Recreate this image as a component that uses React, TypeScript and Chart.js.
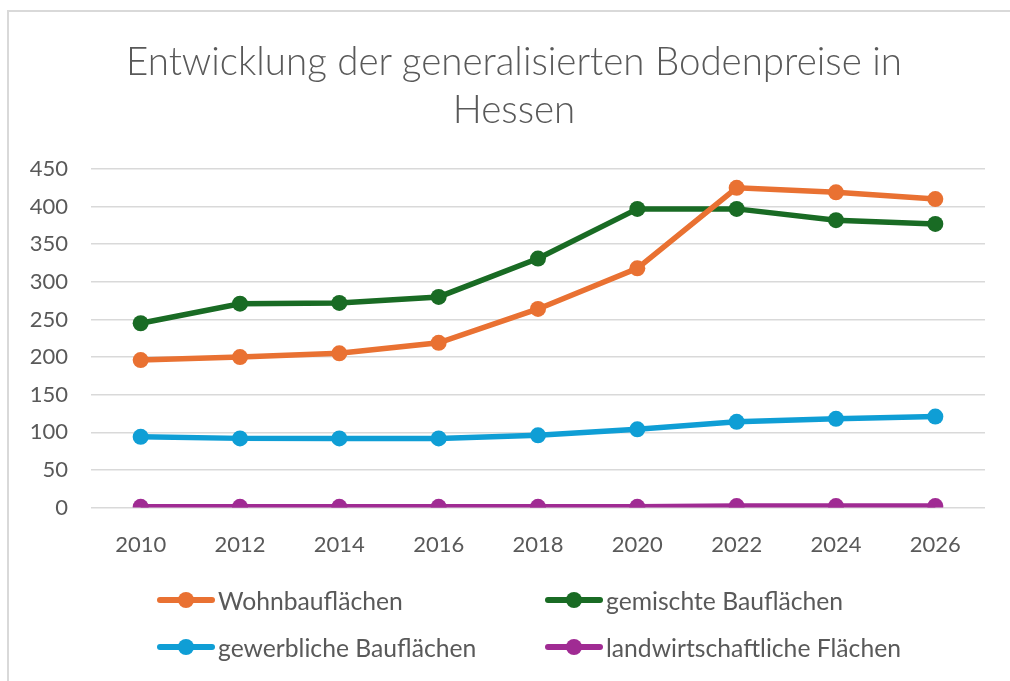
import React, { useEffect, useRef } from "react";
import { Chart, registerables } from "chart.js";

Chart.register(...registerables);

const years = ["2010", "2012", "2014", "2016", "2018", "2020", "2022", "2024", "2026"];
const wohnbau = [196, 200, 205, 219, 264, 318, 425, 419, 410];
const gemischt = [245, 271, 272, 280, 331, 397, 397, 382, 377];
const gewerblich = [94, 92, 92, 92, 96, 104, 114, 118, 121];
const landwirtschaft = [1, 1, 1, 1, 1, 1, 2, 2, 2];
const seriesNames = ["Wohnbauflächen", "gemischte Bauflächen", "gewerbliche Bauflächen", "landwirtschaftliche Flächen"];
const seriesColors = ["#E97132", "#196B24", "#0F9ED5", "#A02B93"];
const titleLines = ["Entwicklung der generalisierten Bodenpreise in", "Hessen"];
const yMin = 0;
const yMax = 450;
const yStep = 50;

const FONT = "Lato, 'Open Sans', sans-serif";
const TEXT = "#595959";

const legendPos = [
  { x: 157, y: 600 },
  { x: 545, y: 600 },
  { x: 157, y: 647 },
  { x: 545, y: 647 },
];

export default function App() {
  const ref = useRef<HTMLCanvasElement | null>(null);

  useEffect(() => {
    if (!ref.current) return;
    const data = [wohnbau, gemischt, gewerblich, landwirtschaft];
    const chart = new Chart(ref.current, {
      type: "line",
      data: {
        labels: years,
        datasets: data.map((d, i) => ({
          label: seriesNames[i],
          data: d,
          borderColor: seriesColors[i],
          backgroundColor: seriesColors[i],
          borderWidth: 5.5,
          pointRadius: 8,
          pointHoverRadius: 8,
          pointBorderWidth: 0,
          tension: 0,
        })),
      },
      options: {
        animation: false,
        responsive: false,
        maintainAspectRatio: false,
        layout: { padding: { left: 0, right: 25, top: 169, bottom: 99 } },
        plugins: {
          legend: { display: false },
          tooltip: { enabled: false },
          title: { display: false },
        },
        scales: {
          x: {
            offset: true,
            grid: { display: false, drawTicks: false },
            border: { display: false },
            ticks: { color: TEXT, font: { family: FONT, size: 22 }, padding: 24, maxRotation: 0 },
          },
          y: {
            min: yMin,
            max: yMax,
            grid: { color: "#d9d9d9", lineWidth: 1.5, drawTicks: false },
            border: { display: false },
            ticks: { stepSize: yStep, color: TEXT, font: { family: FONT, size: 22 }, padding: 23 },
            afterFit: (scale: any) => {
              scale.width = 91;
            },
          },
        },
      },
    });
    return () => chart.destroy();
  }, []);

  return (
    <div style={{ position: "absolute", left: 0, top: 0, width: 1010, height: 681, background: "#fff", overflow: "hidden" }}>
      <div
        style={{
          position: "absolute",
          left: 7,
          top: 10,
          width: 1100,
          height: 800,
          borderLeft: "2px solid #d9d9d9",
          borderTop: "2px solid #d9d9d9",
        }}
      />
      <canvas ref={ref} width={1010} height={681} style={{ position: "absolute", left: 0, top: 0 }} />
      {titleLines.map((line, i) => (
        <div
          key={line}
          style={{
            position: "absolute",
            left: 14,
            width: 1000,
            top: 60 + i * 48 - 24,
            height: 48,
            lineHeight: "48px",
            textAlign: "center",
            fontFamily: FONT,
            fontWeight: 300,
            fontSize: 38.5,
            color: TEXT,
            whiteSpace: "nowrap",
          }}
        >
          {line}
        </div>
      ))}
      {seriesNames.map((name, i) => (
        <div key={name} style={{ position: "absolute", left: legendPos[i].x, top: legendPos[i].y - 15, height: 30, display: "flex", alignItems: "center" }}>
          <div style={{ position: "relative", width: 58, height: 30 }}>
            <div style={{ position: "absolute", left: 0, top: 12, width: 58, height: 6, borderRadius: 3, background: seriesColors[i] }} />
            <div style={{ position: "absolute", left: 21, top: 7, width: 16, height: 16, borderRadius: 8, background: seriesColors[i] }} />
          </div>
          <span style={{ marginLeft: 3, fontFamily: FONT, fontSize: 24.7, color: TEXT, whiteSpace: "nowrap" }}>{name}</span>
        </div>
      ))}
    </div>
  );
}
